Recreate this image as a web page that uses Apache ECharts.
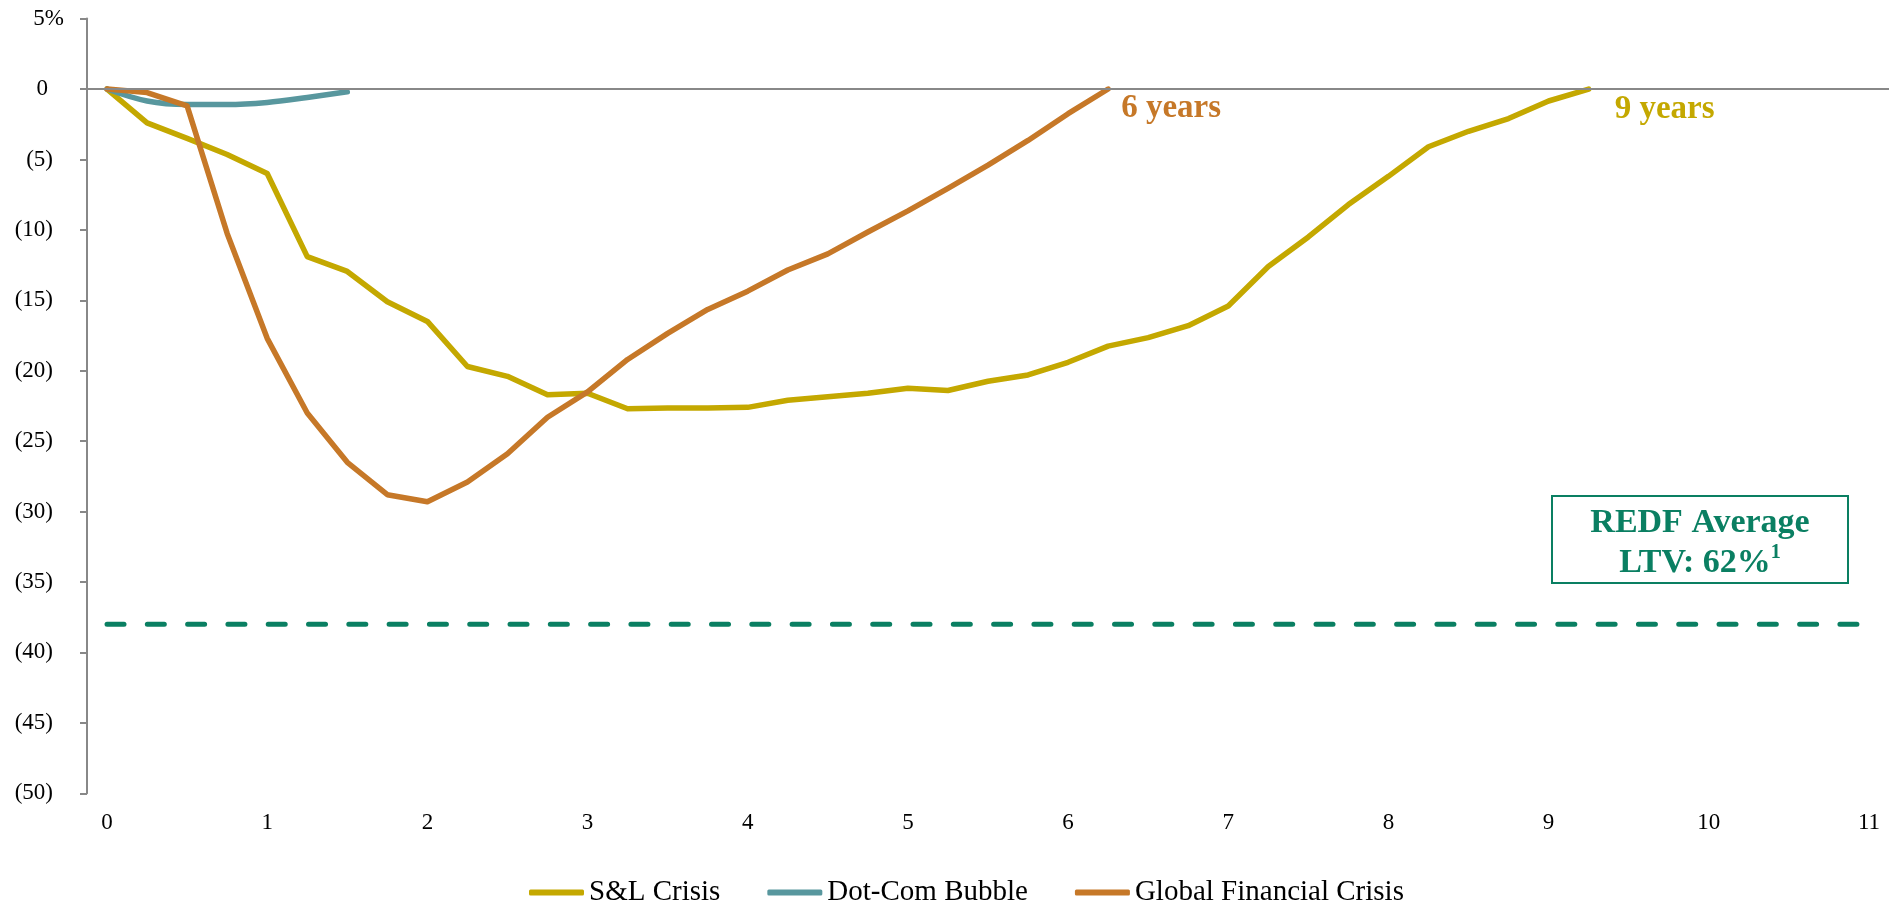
<!DOCTYPE html>
<html>
<head>
<meta charset="utf-8">
<script src="https://cdn.jsdelivr.net/npm/echarts@6/dist/echarts.min.js"></script>
<style>
  html, body { margin: 0; padding: 0; background: #ffffff; }
  #chart { width: 1898px; height: 903px; }
</style>
</head>
<body>
<div id="chart"></div>
<script>
// Years since the start of each downturn, quarterly steps
const QUARTERS = [0, 0.25, 0.5, 0.75, 1, 1.25, 1.5, 1.75, 2, 2.25, 2.5, 2.75, 3, 3.25, 3.5, 3.75,
  4, 4.25, 4.5, 4.75, 5, 5.25, 5.5, 5.75, 6, 6.25, 6.5, 6.75, 7, 7.25, 7.5, 7.75, 8, 8.25, 8.5, 8.75, 9, 9.25];

// Cumulative change in value (%) from the pre-crisis peak
const SL_CRISIS = [0, -2.4, -3.5, -4.65, -6.0, -11.9, -12.95, -15.1, -16.5, -19.7, -20.4, -21.7, -21.6, -22.7,
  -22.65, -22.65, -22.6, -22.1, -21.85, -21.6, -21.25, -21.4, -20.75, -20.3, -19.4, -18.25, -17.65, -16.8,
  -15.4, -12.6, -10.5, -8.2, -6.2, -4.1, -3.0, -2.1, -0.85, 0];
const DOT_COM = [0, -0.85, -1.1, -1.1, -0.95, -0.6, -0.2];
const GFC = [0, -0.25, -1.2, -10.25, -17.7, -23.0, -26.5, -28.8, -29.3, -27.9, -25.9, -23.3, -21.5, -19.2,
  -17.35, -15.65, -14.35, -12.85, -11.7, -10.15, -8.65, -7.05, -5.4, -3.65, -1.75, 0];

// Value decline that a 62% average LTV can absorb
const REDF_LTV_LEVEL = -38;

const SERIES_NAMES = ['S&L Crisis', 'Dot-Com Bubble', 'Global Financial Crisis'];
const RECOVERY_LABELS = { sl: '9 years', gfc: '6 years' };

const X_TICKS = [0, 1, 2, 3, 4, 5, 6, 7, 8, 9, 10, 11];
const Y_TICKS = [5, 0, -5, -10, -15, -20, -25, -30, -35, -40, -45, -50];
const Y_TICK_LABELS = ['5%', '0', '(5)', '(10)', '(15)', '(20)', '(25)', '(30)', '(35)', '(40)', '(45)', '(50)'];

const COLORS = { sl: '#c4a800', dot: '#58979e', gfc: '#c67828', green: '#0a7f62', axis: '#888888' };
const SERIF = '"Liberation Serif", "Times New Roman", serif';

const pairs = (vals) => vals.map((v, i) => [QUARTERS[i], v]);

// Accounting-style tick text: negatives in parentheses, the rest padded so digits line up
const yLabelStyle = (text) => {
  if (text.indexOf('%') >= 0) return 'pct';
  if (text.charAt(0) === '(') return 'neg';
  return 'num';
};

const lineSeries = (name, vals, color, extra) => Object.assign({
  name: name,
  type: 'line',
  data: pairs(vals),
  symbol: 'none',
  lineStyle: { color: color, width: 5.5, cap: 'round', join: 'round' },
  itemStyle: { color: color },
  emphasis: { disabled: true },
  animation: false
}, extra || {});

const chart = echarts.init(document.getElementById('chart'), null, { renderer: 'canvas' });

chart.setOption({
  backgroundColor: '#ffffff',
  animation: false,
  grid: { left: 87, right: 9, top: 18.6, bottom: 109.7, containLabel: false },
  legend: {
    data: SERIES_NAMES,
    left: 524,
    top: 873,
    icon: 'roundRect',
    itemWidth: 55,
    itemHeight: 6,
    itemGap: 47,
    textStyle: { fontFamily: SERIF, fontSize: 29, color: '#000000' }
  },
  xAxis: {
    type: 'value',
    min: -0.125,
    max: 11.125,
    axisLine: { show: false, onZero: false },
    axisTick: { show: false },
    splitLine: { show: false },
    axisLabel: {
      customValues: X_TICKS,
      margin: 18,
      fontFamily: SERIF,
      fontSize: 23,
      color: '#000000'
    }
  },
  yAxis: {
    type: 'value',
    min: -50,
    max: 5,
    interval: 5,
    axisLine: { show: true, onZero: false, lineStyle: { color: COLORS.axis, width: 2 } },
    axisTick: { show: true, length: 7, lineStyle: { color: COLORS.axis, width: 2 } },
    splitLine: { show: false },
    axisLabel: {
      margin: 23,
      fontFamily: SERIF,
      fontSize: 23,
      color: '#000000',
      formatter: (v) => {
        const text = Y_TICK_LABELS[Y_TICKS.indexOf(v)];
        return '{' + yLabelStyle(text) + '|' + text + '}';
      },
      rich: {
        pct: { fontFamily: SERIF, fontSize: 23, color: '#000000' },
        neg: { fontFamily: SERIF, fontSize: 23, color: '#000000', padding: [0, 11, 0, 0] },
        num: { fontFamily: SERIF, fontSize: 23, color: '#000000', padding: [0, 16, 0, 0] }
      }
    }
  },
  series: [
    lineSeries(SERIES_NAMES[0], SL_CRISIS, COLORS.sl, {
      markLine: {
        silent: true,
        symbol: 'none',
        label: { show: false },
        lineStyle: { color: COLORS.axis, width: 2, type: 'solid' },
        data: [{ yAxis: 0 }],
        animation: false
      },
      endLabel: {
        show: true,
        formatter: RECOVERY_LABELS.sl,
        offset: [18, 20],
        fontFamily: SERIF,
        fontSize: 33,
        fontWeight: 'bold',
        color: COLORS.sl
      }
    }),
    lineSeries(SERIES_NAMES[1], DOT_COM, COLORS.dot, { smooth: 0.35 }),
    lineSeries(SERIES_NAMES[2], GFC, COLORS.gfc, {
      endLabel: {
        show: true,
        formatter: RECOVERY_LABELS.gfc,
        offset: [5, 19],
        fontFamily: SERIF,
        fontSize: 33,
        fontWeight: 'bold',
        color: COLORS.gfc
      }
    }),
    {
      name: 'REDF Average LTV',
      type: 'line',
      data: [[X_TICKS[0], REDF_LTV_LEVEL], [X_TICKS[X_TICKS.length - 1], REDF_LTV_LEVEL]],
      symbol: 'none',
      lineStyle: { color: COLORS.green, width: 5, type: [17, 23.3], cap: 'round' },
      emphasis: { disabled: true },
      silent: true,
      animation: false
    }
  ],
  graphic: [
    {
      type: 'rect',
      shape: { x: 1552, y: 496, width: 296, height: 87 },
      style: { fill: '#ffffff', stroke: COLORS.green, lineWidth: 2 },
      z: 10
    },
    {
      type: 'text',
      x: 1700,
      y: 543,
      z: 11,
      style: {
        text: '{a|REDF Average}\n{a|LTV: 62%}{s|1}',
        align: 'center',
        verticalAlign: 'middle',
        fill: COLORS.green,
        rich: {
          a: { fontFamily: SERIF, fontSize: 34, fontWeight: 'bold', lineHeight: 40, fill: COLORS.green },
          s: { fontFamily: SERIF, fontSize: 20, fontWeight: 'bold', lineHeight: 40, verticalAlign: 'top', fill: COLORS.green, padding: [0, 0, 14, 0] }
        }
      }
    }
  ]
});
</script>
</body>
</html>
